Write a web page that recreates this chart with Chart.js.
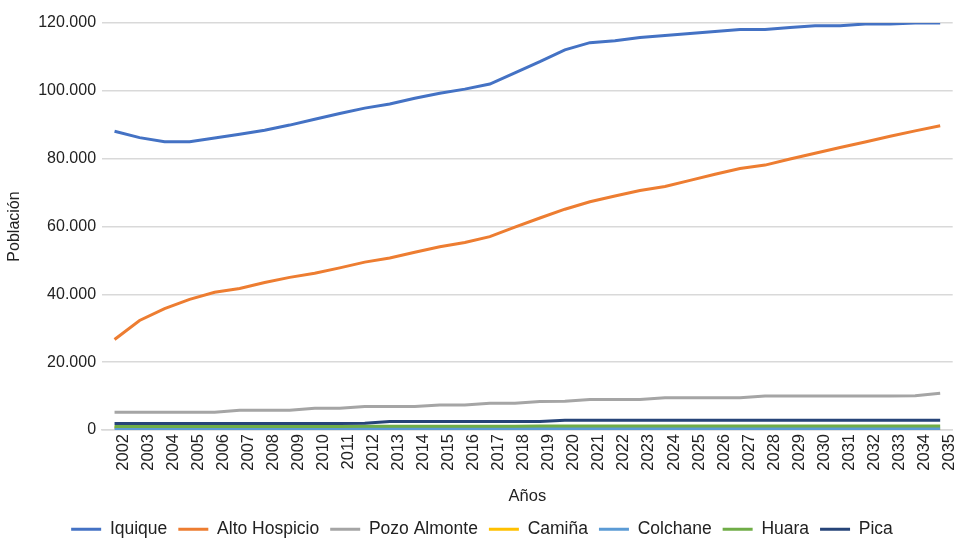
<!DOCTYPE html>
<html lang="es">
<head>
  <meta charset="UTF-8">
  <title>Población proyectada por comuna</title>
  <script src="https://cdn.jsdelivr.net/npm/chart.js"></script>
  <style>
    body { margin: 0; background: #fff; }
    .caja { width: 964px; height: 538px; }
  </style>
</head>
<body>
<div class="caja">
  <canvas id="linea" width="964" height="538"></canvas>
</div>
<script>
// Años (eje X)
var anios = ['2002','2003','2004','2005','2006','2007','2008','2009','2010','2011','2012','2013','2014','2015','2016','2017','2018',
  '2019','2020','2021','2022','2023','2024','2025','2026','2027','2028','2029','2030','2031','2032','2033','2034','2035'];

// Población por comuna
var iquique = [88100,86200,85000,85000,86100,87200,88400,89900,91600,93300,94900,96100,97800,99300,100500,102000,105300,
  108600,112100,114200,114800,115700,116300,116900,117500,118100,118100,118700,119200,119200,119700,119700,120000,120000];
var altoHospicio = [26700,32300,35800,38500,40600,41700,43500,45000,46200,47800,49500,50700,52400,54000,55300,57000,59800,
  62500,65100,67300,69000,70600,71800,73600,75400,77100,78100,79900,81600,83300,84900,86600,88200,89700];
var pozoAlmonte = [5200,5200,5200,5200,5200,5800,5800,5800,6400,6400,6900,6900,6900,7400,7400,7900,7900,
  8400,8500,9000,9000,9000,9500,9500,9500,9500,10000,10000,10000,10000,10000,10000,10100,10800];
var caminia = [700,650,450,300,250,250,250,250,250,250,250,250,250,250,250,250,200,
  200,200,200,200,200,200,200,200,200,150,100,100,100,100,100,100,100];
var colchane = [300,300,350,400,400,400,400,400,400,400,450,450,450,450,450,450,450,
  450,450,450,450,450,450,450,450,450,450,450,450,450,450,450,450,450];
var huara = [1000,1000,1000,1000,1050,1050,1050,1050,1050,1050,1100,1100,1100,1100,1100,1100,1100,
  1150,1150,1150,1150,1150,1150,1150,1150,1150,1150,1150,1150,1150,1150,1150,1150,1150];
var pica = [1900,1900,1900,1900,1900,1900,1900,1900,1900,1900,2000,2500,2500,2500,2500,2500,2500,
  2500,2900,2900,2900,2900,2900,2900,2900,2900,2900,2900,2900,2900,2900,2900,2900,2900];

var yTicks = [0, 20000, 40000, 60000, 80000, 100000, 120000];

function serie(nombre, datos, color){
  return {
    label: nombre,
    data: datos,
    borderColor: color,
    backgroundColor: color,
    borderWidth: 3,
    pointRadius: 0,
    tension: 0,
    fill: false
  };
}

var fuente = 'Liberation Sans, Arial, sans-serif';

var ctx = document.getElementById('linea').getContext('2d');
var grafico = new Chart(ctx, {
  type: 'line',
  data: {
    labels: anios,
    datasets: [
      serie('Pica', pica, '#264478'),
      serie('Huara', huara, '#70ad47'),
      serie('Colchane', colchane, '#5b9bd5'),
      serie('Camiña', caminia, '#ffc000'),
      serie('Pozo Almonte', pozoAlmonte, '#a5a5a5'),
      serie('Alto Hospicio', altoHospicio, '#ed7d31'),
      serie('Iquique', iquique, '#4472c4')
    ]
  },
  options: {
    responsive: false,
    animation: false,
    layout: { padding: { top: 23, right: 1, left: 1, bottom: -10 } },
    plugins: {
      legend: {
        position: 'bottom',
        reverse: true,
        labels: {
          usePointStyle: true,
          pointStyleWidth: 30,
          pointStyle: 'line',
          boxHeight: 10,
          padding: 11,
          color: '#222',
          font: { family: fuente, size: 17.5 }
        }
      },
      tooltip: { enabled: false }
    },
    scales: {
      x: {
        offset: true,
        grid: { display: false, drawTicks: false },
        border: { color: '#d9d9d9', width: 1.5 },
        ticks: {
          autoSkip: false,
          minRotation: 90,
          maxRotation: 90,
          labelOffset: 9,
          padding: 4,
          color: '#222',
          font: { family: fuente, size: 16.5 }
        },
        title: {
          display: true,
          text: 'Años',
          color: '#222',
          padding: { top: 12, bottom: 3 },
          font: { family: fuente, size: 16.5 }
        }
      },
      y: {
        min: 0,
        max: 120000,
        afterBuildTicks: function(eje){
          eje.ticks = yTicks.map(function(v){ return { value: v }; });
        },
        grid: { color: '#d9d9d9', lineWidth: 1.5, drawTicks: false },
        border: { display: false },
        ticks: {
          padding: 6,
          color: '#222',
          font: { family: fuente, size: 16 },
          callback: function(v){ return v.toLocaleString('de-DE'); }
        },
        title: {
          display: true,
          text: 'Población',
          color: '#222',
          padding: { bottom: 8 },
          font: { family: fuente, size: 16 }
        }
      }
    }
  }
});
</script>
</body>
</html>
